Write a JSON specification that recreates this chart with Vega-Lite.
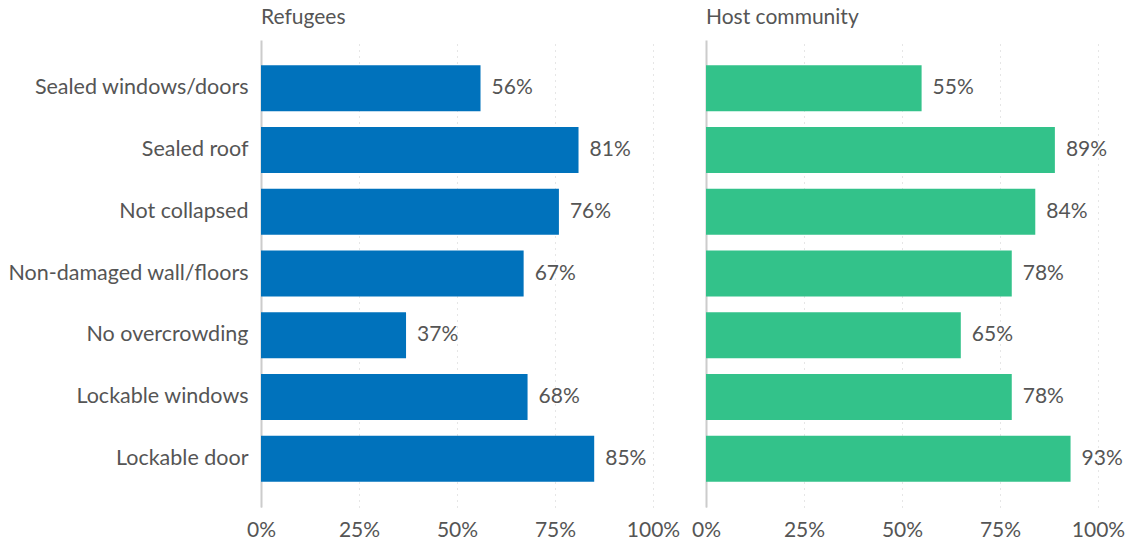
{
  "$schema": "https://vega.github.io/schema/vega-lite/v6.json",
  "background": "white",
  "padding": {"left": 7, "top": 7, "right": 5, "bottom": 5},
  "spacing": 11,
  "config": {
    "font": "Lato",
    "view": {"stroke": null},
    "axis": {"labelFont": "Lato", "labelFontSize": 21, "labelColor": "#555555", "titleFont": "Lato"},
    "title": {"font": "Lato", "fontSize": 21, "fontWeight": "normal", "color": "#555555", "anchor": "start", "frame": "group", "offset": 12}
  },
  "datasets": {
    "d": [
      {"group": "Refugees", "item": "Sealed windows/doors", "value": 0.56},
      {"group": "Refugees", "item": "Sealed roof", "value": 0.81},
      {"group": "Refugees", "item": "Not collapsed", "value": 0.76},
      {"group": "Refugees", "item": "Non-damaged wall/floors", "value": 0.67},
      {"group": "Refugees", "item": "No overcrowding", "value": 0.37},
      {"group": "Refugees", "item": "Lockable windows", "value": 0.68},
      {"group": "Refugees", "item": "Lockable door", "value": 0.85},
      {"group": "Host community", "item": "Sealed windows/doors", "value": 0.55},
      {"group": "Host community", "item": "Sealed roof", "value": 0.89},
      {"group": "Host community", "item": "Not collapsed", "value": 0.84},
      {"group": "Host community", "item": "Non-damaged wall/floors", "value": 0.78},
      {"group": "Host community", "item": "No overcrowding", "value": 0.65},
      {"group": "Host community", "item": "Lockable windows", "value": 0.78},
      {"group": "Host community", "item": "Lockable door", "value": 0.93}
    ]
  },
  "hconcat": [
    {
      "title": "Refugees",
      "width": 392,
      "height": 467,
      "data": {"name": "d"},
      "transform": [{"filter": "datum.group === 'Refugees'"}],
      "encoding": {
        "y": {"field": "item", "type": "nominal", "sort": null, "title": null,
              "scale": {"paddingInner": 0.255, "paddingOuter": 0.41},
              "axis": {"ticks": false, "domain": true, "domainColor": "#cccccc", "domainWidth": 2, "labelPadding": 13, "labelLimit": 300, "labelFontSize": 21.5}},
        "x": {"field": "value", "type": "quantitative", "title": null,
              "scale": {"domain": [0, 1], "nice": false},
              "axis": {"format": ".0%", "values": [0, 0.25, 0.5, 0.75, 1], "domain": false, "ticks": false, "grid": true, "gridColor": "#cccccc", "gridDash": [1, 5], "labelPadding": 12, "labelFlush": false}}
      },
      "layer": [
        {"mark": {"type": "bar", "color": "#0072BC"}},
        {"mark": {"type": "text", "align": "left", "dx": 11, "fontSize": 21, "color": "#555555", "font": "Lato"},
         "encoding": {"text": {"field": "value", "type": "quantitative", "format": ".0%"}}}
      ]
    },
    {
      "title": "Host community",
      "width": 392,
      "height": 467,
      "data": {"name": "d"},
      "transform": [{"filter": "datum.group === 'Host community'"}],
      "encoding": {
        "y": {"field": "item", "type": "nominal", "sort": null, "title": null,
              "scale": {"paddingInner": 0.255, "paddingOuter": 0.41},
              "axis": {"ticks": false, "domain": true, "domainColor": "#cccccc", "domainWidth": 2, "labels": false}},
        "x": {"field": "value", "type": "quantitative", "title": null,
              "scale": {"domain": [0, 1], "nice": false},
              "axis": {"format": ".0%", "values": [0, 0.25, 0.5, 0.75, 1], "domain": false, "ticks": false, "grid": true, "gridColor": "#cccccc", "gridDash": [1, 5], "labelPadding": 12, "labelFlush": false}}
      },
      "layer": [
        {"mark": {"type": "bar", "color": "#33C28A"}},
        {"mark": {"type": "text", "align": "left", "dx": 11, "fontSize": 21, "color": "#555555", "font": "Lato"},
         "encoding": {"text": {"field": "value", "type": "quantitative", "format": ".0%"}}}
      ]
    }
  ]
}
